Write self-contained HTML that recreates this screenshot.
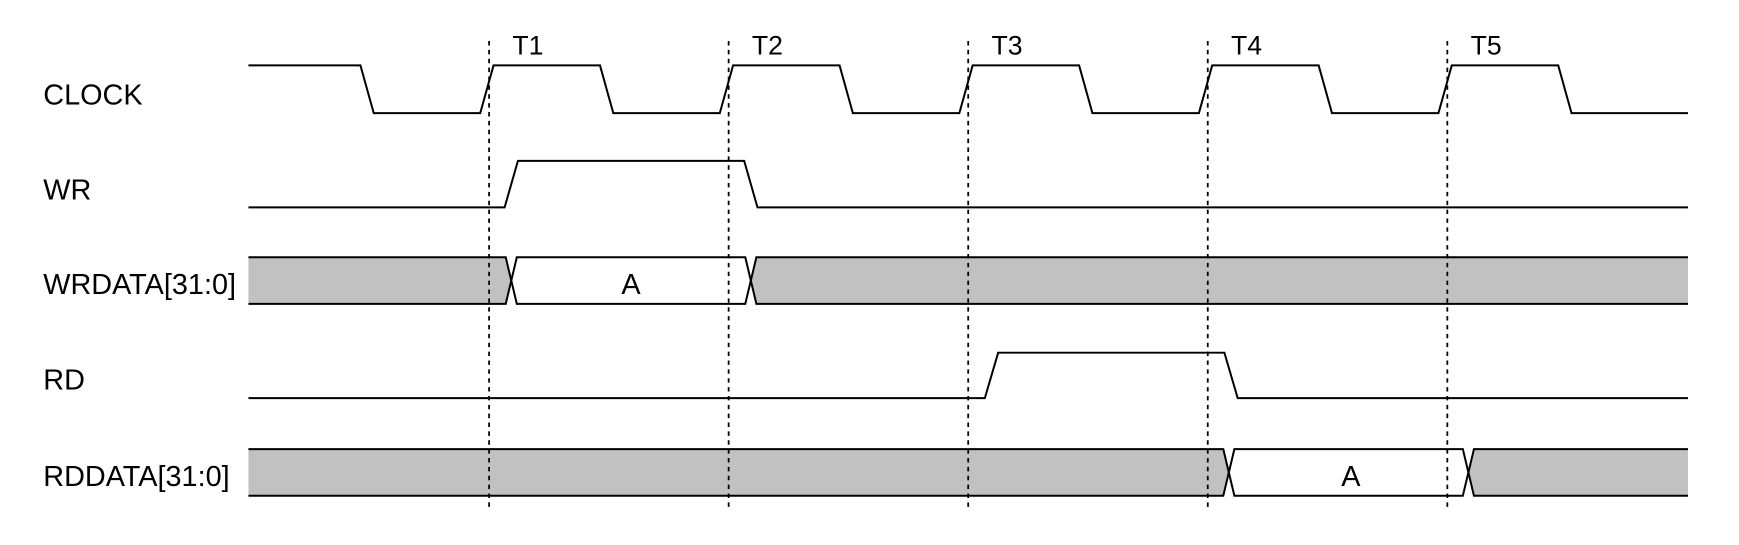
<!DOCTYPE html>
<html><head><style>html,body{margin:0;padding:0;background:#fff;}svg{display:block}</style></head>
<body>
<svg width="1739" height="545" viewBox="0 0 1568 491.4" preserveAspectRatio="none" xmlns="http://www.w3.org/2000/svg" font-family="Liberation Sans, sans-serif">
<g fill="#c0c1c0" stroke="none">
<polygon points="224,232 456,232 461,253 456,274 224,274"/>
<polygon points="682,232 1522,232 1522,274 682,274 677,253"/>
<polygon points="224,405 1103,405 1108,426 1103,447 224,447"/>
<polygon points="1329,405 1522,405 1522,447 1329,447 1324,426"/>
</g>
<g stroke="#000" stroke-width="1.6" stroke-dasharray="4,4">
<line x1="441" y1="37" x2="441" y2="458"/><line x1="657" y1="37" x2="657" y2="458"/><line x1="873" y1="37" x2="873" y2="458"/><line x1="1089" y1="37" x2="1089" y2="458"/><line x1="1305" y1="37" x2="1305" y2="458"/>
</g>
<g fill="none" stroke="#000" stroke-width="1.8">
<polyline points="224,59 325,59 337,102 433,102 445,59 541,59 553,102 649,102 661,59 757,59 769,102 865,102 877,59 973,59 985,102 1081,102 1093,59 1189,59 1201,102 1297,102 1309,59 1405,59 1417,102 1522,102"/>
<polyline points="224,187 455,187 467,145 671,145 683,187 1522,187"/>
<polyline points="224,232 456,232 466,274 672,274 682,232 1522,232"/>
<polyline points="224,274 456,274 466,232 672,232 682,274 1522,274"/>
<polyline points="224,359 888,359 900,318 1104,318 1116,359 1522,359"/>
<polyline points="224,405 1103,405 1113,447 1319,447 1329,405 1522,405"/>
<polyline points="224,447 1103,447 1113,405 1319,405 1329,447 1522,447"/>
</g>
<g font-size="24" fill="#000">
<text x="462" y="49">T1</text><text x="678" y="49">T2</text><text x="894" y="49">T3</text><text x="1110" y="49">T4</text><text x="1326" y="49">T5</text>
</g>
<g font-size="26" fill="#000">
<text x="39" y="94">CLOCK</text><text x="39" y="180">WR</text><text x="39" y="265">WRDATA[31:0]</text><text x="39" y="351">RD</text><text x="39" y="438">RDDATA[31:0]</text>
<text x="569" y="265" text-anchor="middle">A</text><text x="1218" y="438" text-anchor="middle">A</text>
</g>
</svg>
</body></html>
